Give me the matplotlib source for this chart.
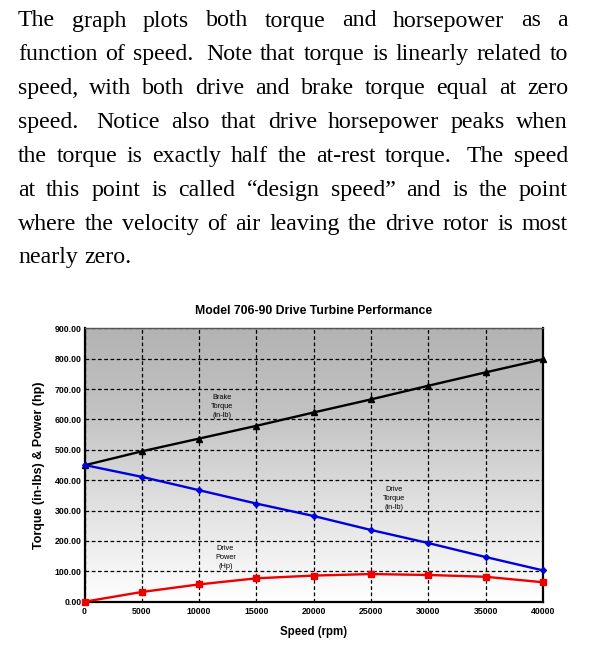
"""
Model 706-90 drive turbine performance page: justified paragraph + chart.
Output: out.png (591x662)
"""
import matplotlib
matplotlib.use("Agg")
import matplotlib.pyplot as plt
import numpy as np

W, H = 591, 662

# --- chart data ---
speed = [0, 5000, 10000, 15000, 20000, 25000, 30000, 35000, 40000]
brake_torque = [449, 495, 537, 579, 623, 666, 711, 755, 798]
drive_torque = [450, 411, 367, 323, 282, 236, 193, 147, 103]
drive_power = [0, 32, 57, 77, 86, 91, 88, 82, 64]

x_ticks = [0, 5000, 10000, 15000, 20000, 25000, 30000, 35000, 40000]
y_ticks = [0, 100, 200, 300, 400, 500, 600, 700, 800, 900]

# --- paragraph text ---
para_lines = [
    "The graph plots both torque and horsepower as a",
    "function of speed.  Note that torque is linearly related to",
    "speed, with both drive and brake torque equal at zero",
    "speed.  Notice also that drive horsepower peaks when",
    "the torque is exactly half the at-rest torque.  The speed",
    "at this point is called \u201cdesign speed\u201d and is the point",
    "where the velocity of air leaving the drive rotor is most",
    "nearly zero.",
]

fig = plt.figure(figsize=(W / 100, H / 100), dpi=100)
renderer = fig.canvas.get_renderer()

SERIF = "Liberation Serif"
PSIZE = 17.2
X0, X1 = 18, 568
BASE0, LEAD = 26.5, 33.85


def draw_line(line, y_px, justify):
    # split on single spaces, remember sentence breaks (double spaces)
    chunks = line.split("  ")
    words, weights = [], []
    for ci, chunk in enumerate(chunks):
        ws = chunk.split(" ")
        for wi, w in enumerate(ws):
            words.append(w)
            if wi < len(ws) - 1:
                weights.append(1.0)
            elif ci < len(chunks) - 1:
                weights.append(1.6)
    texts = [fig.text(0, 1 - y_px / H, w, fontsize=PSIZE, family=SERIF,
                      va="baseline", ha="left") for w in words]
    widths = [t.get_window_extent(renderer).width for t in texts]
    if justify and len(words) > 1:
        unit = (X1 - X0 - sum(widths)) / sum(weights)
    else:
        unit = PSIZE * 0.25 * 100 / 72
    x = X0
    for i, (t, w) in enumerate(zip(texts, widths)):
        t.set_x(x / W)
        if i < len(weights):
            x += w + unit * weights[i]


for i, line in enumerate(para_lines):
    draw_line(line, BASE0 + i * LEAD, justify=(i < len(para_lines) - 1))

# --- chart ---
ax = fig.add_axes([84.5 / W, (H - 601.7) / H, (543 - 84.5) / W, (601.7 - 328.3) / H])

# gray (top) to white (bottom) plot area
grad = np.linspace(0, 1, 256).reshape(-1, 1)
cmap = matplotlib.colors.LinearSegmentedColormap.from_list(
    "bg", [(0.0, "#b3b3b3"), (0.3, "#c2c2c2"), (1.0, "#ffffff")])
ax.imshow(grad, aspect="auto", cmap=cmap, extent=[0, 1, 0, 1], origin="upper",
          transform=ax.transAxes, zorder=0)

ax.set_xlim(0, 40000)
ax.set_ylim(0, 900)
ax.set_xticks(x_ticks)
ax.set_yticks(y_ticks)
ax.set_xticklabels([str(v) for v in x_ticks], fontsize=6.3, fontweight="bold",
                   family="Liberation Sans")
ax.set_yticklabels([f"{v:.2f}" for v in y_ticks], fontsize=6.3, fontweight="bold",
                   family="Liberation Sans")
ax.tick_params(axis="x", length=0, pad=4)
ax.tick_params(axis="y", length=0, pad=2)
ax.grid(True, color="black", linestyle=(0, (3, 2)), linewidth=0.9, zorder=1)

for side in ["left", "right", "bottom"]:
    ax.spines[side].set_linewidth(1.6)
    ax.spines[side].set_color("black")
ax.spines["top"].set_linewidth(1.0)
ax.spines["top"].set_color("#555555")

ax.plot(speed, brake_torque, color="black", linewidth=1.7, marker="^",
        markersize=4.5, zorder=3, clip_on=False)
ax.plot(speed, drive_torque, color="#0000dd", linewidth=1.7, marker="D",
        markersize=3, zorder=3, clip_on=False)
ax.plot(speed, drive_power, color="#ee0000", linewidth=1.7, marker="s",
        markersize=4.5, zorder=3, clip_on=False)

lab = dict(fontsize=5.3, ha="center", va="center", family="Liberation Sans",
           linespacing=1.35, zorder=4)
ax.text(12000, 642, "Brake\nTorque\n(in-lb)", **lab)
ax.text(27000, 340, "Drive\nTorque\n(in-lb)", **lab)
ax.text(12300, 146, "Drive\nPower\n(Hp)", **lab)

ax.set_title("Model 706-90 Drive Turbine Performance", fontsize=8.8,
             fontweight="bold", family="Liberation Sans", pad=10)
ax.set_xlabel("Speed (rpm)", fontsize=8.3, fontweight="bold",
              family="Liberation Sans", labelpad=7)
ax.set_ylabel("Torque (in-lbs) & Power (hp)", fontsize=9, fontweight="bold",
              family="Liberation Sans", labelpad=7)

fig.savefig("out.png", dpi=100)
